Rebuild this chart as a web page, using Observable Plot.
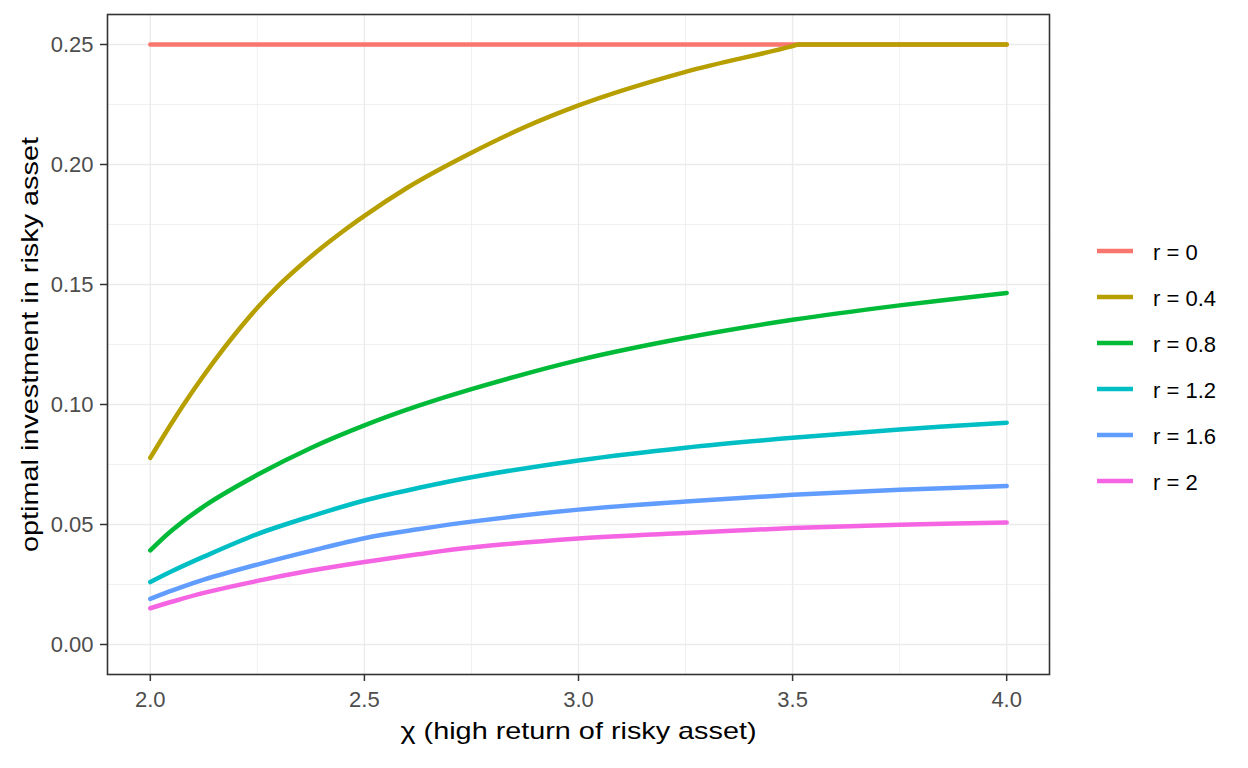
<!DOCTYPE html>
<html>
<head>
<meta charset="utf-8">
<script src="https://cdn.jsdelivr.net/npm/d3@7"></script>
<script src="https://cdn.jsdelivr.net/npm/@observablehq/plot@0.6"></script>
<style>
  body { margin: 0; background: white; }
  #wrap { position: relative; width: 1248px; height: 768px; font-family: 'Liberation Sans', Arial, sans-serif; }
  #legend { position: absolute; left: 1097px; top: 228px; }
  .entry { height: 46px; display: flex; align-items: center; }
  .entry span { margin-left: 20px; font-size: 22px; color: #000; line-height: 1; padding-top: 3px; }
</style>
</head>
<body>
<div id="wrap"></div>
<script>
// ---- data ----
const seriesLabels = ["r = 0", "r = 0.4", "r = 0.8", "r = 1.2", "r = 1.6", "r = 2"];
const seriesColors = ["#F8766D", "#B79F00", "#00BA38", "#00BFC4", "#619CFF", "#F564E3"];

const chi    = [2.0, 2.05, 2.125, 2.25, 2.375, 2.5, 2.625, 2.75, 3.0, 3.25, 3.5, 3.75, 4.0];
const chiR04 = [2.0, 2.05, 2.1, 2.15, 2.2, 2.25, 2.3, 2.35, 2.4, 2.45, 2.5, 2.6, 2.75, 2.875, 3.0, 3.25, 3.5, 3.515, 3.75, 4.0];

const r00 = [0.25, 0.25, 0.25, 0.25, 0.25, 0.25, 0.25, 0.25, 0.25, 0.25, 0.25, 0.25, 0.25];
const r04 = [0.0778, 0.0923, 0.1058, 0.1183, 0.1298, 0.1403, 0.1496, 0.1578, 0.1653, 0.1722, 0.1786, 0.1903, 0.2049, 0.2156, 0.2246, 0.2386, 0.2493, 0.25, 0.25, 0.25];
const r08 = [0.0392, 0.0475, 0.0576, 0.0707, 0.0819, 0.0913, 0.0994, 0.1064, 0.1185, 0.1278, 0.1353, 0.1413, 0.1465];
const r12 = [0.0260, 0.0305, 0.0366, 0.0460, 0.0534, 0.0600, 0.0652, 0.0697, 0.0767, 0.0820, 0.0861, 0.0896, 0.0924];
const r16 = [0.0190, 0.0224, 0.0270, 0.0333, 0.0390, 0.0443, 0.0480, 0.0512, 0.0562, 0.0596, 0.0624, 0.0645, 0.0660];
const r20 = [0.0151, 0.0178, 0.0215, 0.0265, 0.0308, 0.0344, 0.0376, 0.0404, 0.0442, 0.0465, 0.0485, 0.0499, 0.0508];

const xMajor = [2.0, 2.5, 3.0, 3.5, 4.0];
const xMinor = [2.25, 2.75, 3.25, 3.75];
const yMajor = [0, 0.05, 0.10, 0.15, 0.20, 0.25];
const yMinor = [0.025, 0.075, 0.125, 0.175, 0.225];

const xTitle = "χ (high return of risky asset)";
const yTitle = "optimal investment in risky asset";

// ---- table for Plot ----
const seriesX = [chi, chiR04, chi, chi, chi, chi];
const seriesY = [r00, r04, r08, r12, r16, r20];
const rows = [];
seriesLabels.forEach((lab, i) => {
  seriesX[i].forEach((x, j) => rows.push({series: lab, chi: x, value: seriesY[i][j]}));
});
const capped = (d) => d.series === "r = 0.4";

const grid = "#EBEBEB";
const plot = Plot.plot({
  width: 1248,
  height: 768,
  marginLeft: 107,
  marginRight: 199,
  marginTop: 14,
  marginBottom: 94,
  style: {fontFamily: "'Liberation Sans', Arial, sans-serif", background: "white", overflow: "visible"},
  x: {domain: [1.9, 4.1]},
  y: {domain: [-0.0125, 0.2625]},
  color: {domain: seriesLabels, range: seriesColors},
  marks: [
    Plot.ruleX(xMinor, {stroke: grid, strokeWidth: 0.7}),
    Plot.ruleY(yMinor, {stroke: grid, strokeWidth: 0.7}),
    Plot.ruleX(xMajor, {stroke: grid, strokeWidth: 1.4}),
    Plot.ruleY(yMajor, {stroke: grid, strokeWidth: 1.4}),
    Plot.line(rows.filter(d => d.series === "r = 0"), {x: "chi", y: "value", z: "series", stroke: "series", strokeWidth: 4.5}),
    Plot.line(rows.filter(capped), {x: "chi", y: "value", z: "series", stroke: "series", strokeWidth: 4.5, curve: "monotone-x"}),
    Plot.line(rows.filter(d => d.series !== "r = 0" && !capped(d)), {x: "chi", y: "value", z: "series", stroke: "series", strokeWidth: 4.5, curve: "catmull-rom"}),
    Plot.frame({stroke: "#333333", strokeWidth: 1.6}),
    Plot.axisX(xMajor, {tickFormat: d3.format(".1f"), tickSize: 7, tickPadding: 10, fontSize: 22,
      stroke: "#333333", strokeWidth: 1.5, fill: "#4D4D4D", label: null}),
    Plot.axisY(yMajor, {tickFormat: d3.format(".2f"), tickSize: 7, tickPadding: 7, fontSize: 22,
      stroke: "#333333", strokeWidth: 1.5, fill: "#4D4D4D", label: null}),
    Plot.text([xTitle], {frameAnchor: "bottom", dy: 64, fontSize: 24, fill: "#000"}),
    Plot.text([yTitle], {frameAnchor: "left", dx: -77, rotate: -90, fontSize: 24, fill: "#000"})
  ]
});

// stretch the axis titles along their reading direction like the reference
d3.select(plot).selectAll("text").filter(function() { return this.textContent === xTitle; })
  .attr("textLength", 356).attr("lengthAdjust", "spacingAndGlyphs");
d3.select(plot).selectAll("text").filter(function() { return this.textContent === yTitle; })
  .attr("textLength", 415).attr("lengthAdjust", "spacingAndGlyphs")
  .attr("text-anchor", "start").attr("x", -207.5);

const wrap = document.getElementById("wrap");
wrap.appendChild(plot);

// legend
const legend = document.createElement("div");
legend.id = "legend";
seriesLabels.forEach((lab, i) => {
  const e = document.createElement("div");
  e.className = "entry";
  e.innerHTML = `<svg width="36" height="10"><line x1="0" x2="36" y1="5" y2="5" stroke="${seriesColors[i]}" stroke-width="4.5"/></svg><span>${lab}</span>`;
  legend.appendChild(e);
});
wrap.appendChild(legend);
</script>
</body>
</html>
